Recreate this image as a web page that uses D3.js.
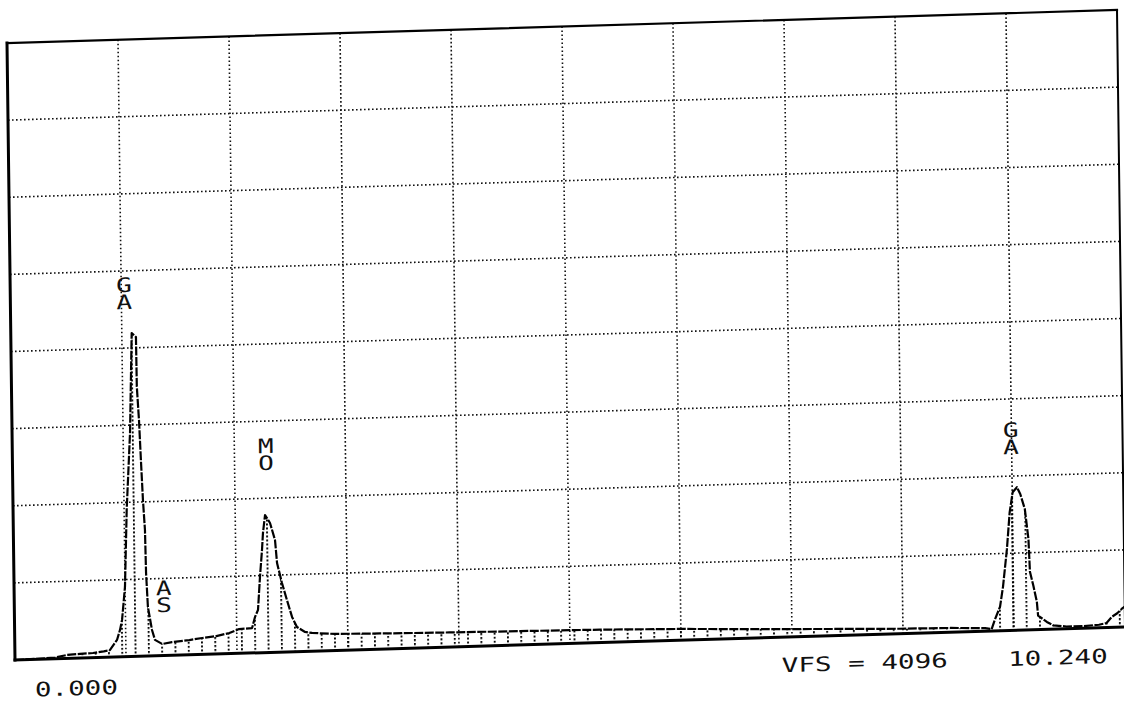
<!DOCTYPE html>
<html>
<head>
<meta charset="utf-8">
<script src="https://cdn.jsdelivr.net/npm/d3@7"></script>
<style>
  html, body { margin: 0; padding: 0; background: #fff; }
  svg { display: block; }
  text { font-family: "DejaVu Sans Mono", "Liberation Mono", monospace; fill: #111; font-feature-settings: "zero" 1; }
</style>
</head>
<body>
<svg id="chart" width="1124" height="704"></svg>
<script>
// EDS spectrum: energy (keV) against counts, full scale 4096
const energyKeV = [0.00, 0.20, 0.37, 0.48, 0.60, 0.72, 0.82, 0.876, 0.943, 0.972, 0.992, 1.023, 1.048, 1.088,
  1.115, 1.154, 1.156, 1.172, 1.185, 1.199, 1.214, 1.219, 1.232, 1.267, 1.293, 1.36, 1.45, 1.61, 1.73, 1.86,
  1.98, 2.07, 2.19, 2.219, 2.247, 2.269, 2.291, 2.302, 2.323, 2.368, 2.412, 2.428, 2.471, 2.515, 2.56, 2.604,
  2.678, 2.742, 2.95, 3.37, 4.01, 4.66, 5.40, 6.13, 6.78, 7.52, 8.16, 8.63, 8.95, 9.01, 9.04, 9.09, 9.12,
  9.16, 9.19, 9.22, 9.26, 9.29, 9.33, 9.36, 9.37, 9.40, 9.43, 9.44, 9.52, 9.58, 9.70, 9.85, 10.00, 10.07,
  10.12, 10.17, 10.22, 10.24];
const counts = [0, 4, 8, 23, 28, 31, 40, 47, 113, 179, 245, 465, 976, 1487,
  2147, 2119, 1790, 1568, 1302, 1036, 837, 551, 325, 172, 106, 77, 88, 98, 109, 119,
  137, 161, 165, 239, 285, 503, 683, 795, 913, 859, 745, 592, 458, 344, 231, 163,
  129, 121, 110, 104, 97, 92, 86, 75, 60, 45, 33, 28, 20, 12, 73, 159, 292,
  538, 783, 916, 949, 903, 803, 604, 385, 292, 186, 93, 49, 25, 15, 14, 20, 30,
  70, 93, 126, 135];

// Element markers: text, energy (keV) and count level at the top of the label
const markerText = ["GA", "AS", "MO", "GA"];
const markerEnergy = [1.05, 1.38, 2.337, 9.21];
const markerCounts = [2520, 501, 1424, 1383];

// Scale read-outs printed under the frame
const startLabel = "0.000";
const vfsLabel = "VFS = 4096";
const endLabel = "10.240";

const fullScale = 4096;
const energyMax = 10.24;
const gridDivX = 10, gridDivY = 8;

const W = 1110, H = 617;
const x = d3.scaleLinear().domain([0, energyMax]).range([0, W]);
const y = d3.scaleLinear().domain([0, fullScale]).range([H, 0]);

const svg = d3.select("#chart");
svg.append("rect").attr("width", 1124).attr("height", 704).attr("fill", "#fff");

// the plotter sheet sits slightly skewed on the page
const g = svg.append("g").attr("transform", "matrix(1,-0.02973,0.01297,1,7,43)");

// vertical dotted hatching used under the spectrum trace
const defs = svg.append("defs");
const hatch = defs.append("pattern")
  .attr("id", "hatch")
  .attr("patternUnits", "userSpaceOnUse")
  .attr("width", x(0.1227) - x(0))
  .attr("height", 4);
hatch.append("rect").attr("x", 0).attr("y", 0).attr("width", 1.8).attr("height", 2).attr("fill", "#000");

// grid
const xGrid = d3.range(1, gridDivX).map(i => i * energyMax / gridDivX);
const yGrid = d3.range(1, gridDivY).map(i => i * fullScale / gridDivY);
g.append("g").selectAll("line").data(xGrid).join("line")
  .attr("x1", d => x(d)).attr("x2", d => x(d))
  .attr("y1", 0).attr("y2", H)
  .attr("stroke", "#111").attr("stroke-width", 1.6)
  .attr("stroke-dasharray", "1.6 2.4");
g.append("g").selectAll("line").data(yGrid).join("line")
  .attr("x1", 0).attr("x2", W)
  .attr("y1", d => y(d)).attr("y2", d => y(d))
  .attr("stroke", "#111").attr("stroke-width", 1.6)
  .attr("stroke-dasharray", "1.6 2.4");

const pts = energyKeV.map((e, i) => [e, counts[i]]);

// hatched area under the trace
g.append("path")
  .datum(pts)
  .attr("d", d3.area().x(d => x(d[0])).y0(H).y1(d => y(d[1])))
  .attr("fill", "url(#hatch)");

// spectrum trace, drawn in short plotter strokes
g.append("path")
  .datum(pts)
  .attr("d", d3.line().x(d => x(d[0])).y(d => y(d[1])))
  .attr("fill", "none")
  .attr("stroke", "#000")
  .attr("stroke-width", 2.2)
  .attr("stroke-dasharray", "9 1.5")
  .attr("stroke-linejoin", "round");

// frame
const frame = g.append("g").attr("stroke", "#000").attr("stroke-linecap", "square");
frame.append("line").attr("x1", 0).attr("y1", 0).attr("x2", W).attr("y2", 0).attr("stroke-width", 2.2);
frame.append("line").attr("x1", W).attr("y1", 0).attr("x2", W).attr("y2", H).attr("stroke-width", 2);
frame.append("line").attr("x1", 0).attr("y1", 0).attr("x2", 0).attr("y2", H).attr("stroke-width", 3);
frame.append("line").attr("x1", 0).attr("y1", H).attr("x2", W).attr("y2", H).attr("stroke-width", 3);

// element markers, letters stacked vertically
const markers = g.append("g");
markerText.forEach((t, i) => {
  t.split("").forEach((ch, j) => {
    markers.append("text")
      .attr("transform", `translate(${x(markerEnergy[i])},${y(markerCounts[i]) + 15 + j * 17}) scale(1.3,1)`)
      .attr("text-anchor", "middle")
      .attr("font-size", 20)
      .text(ch);
  });
});

// read-outs below the frame
const readouts = [
  { text: startLabel, e: 0.18, dy: 37 },
  { text: vfsLabel, e: 7.07, dy: 35 },
  { text: endLabel, e: 9.158, dy: 35.5 }
];
readouts.forEach(r => {
  g.append("text")
    .attr("transform", `translate(${x(r.e)},${H + r.dy}) scale(1.38,1)`)
    .attr("font-size", 20)
    .text(r.text);
});
</script>
</body>
</html>
